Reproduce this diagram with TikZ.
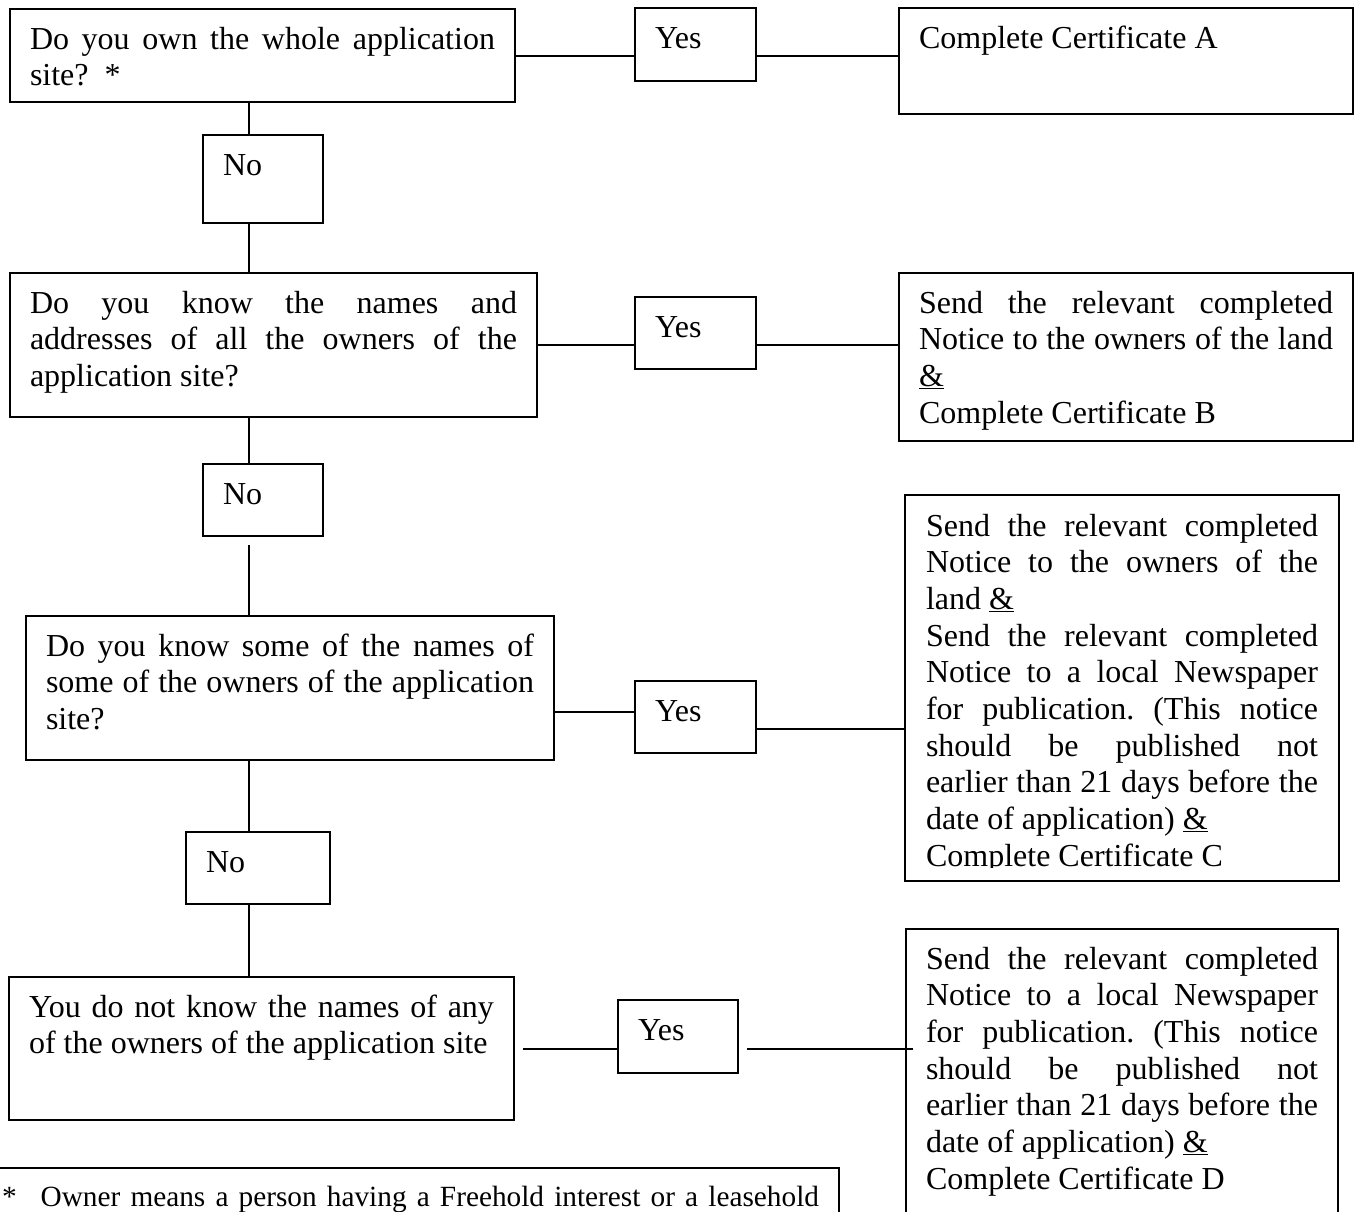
\documentclass[tikz,border=0pt]{standalone}
\usepackage{fontspec}
\setmainfont{Liberation Serif}
\usepackage{tikz}
\usetikzlibrary{calc}
\tikzset{
  chart/.style = {draw, line width = 2pt, anchor = north west, inner xsep = 20pt, inner ysep = 0pt,
    text height = 40pt, align = justify, font = \fontsize{32pt}{36.67pt}\selectfont},
  link/.style = {line width = 2pt}
}
\hyphenpenalty=10000
\tolerance=10000
\hbadness=10000
\frenchspacing

\begin{document}
\begin{tikzpicture}[x = 1pt, y = -1pt]
\useasboundingbox (0, 0) rectangle (1354, 1211);
\coordinate (spine) at (249, 0);

\node[chart, text width = 465pt, text depth = 53pt] (own) at (9, 8) {Do you own the whole application\linebreak site?\ \ *};
\node[chart, text width = 80pt, text depth = 48pt] (noA) at (202, 134) {No};
\node[chart, text width = 487pt, text depth = 104pt] (names) at (9, 272) {Do you know the names and\linebreak addresses of all the owners of the\linebreak application site?};
\node[chart, text width = 80pt, text depth = 32pt] (noB) at (202, 463) {No};
\node[chart, text width = 488pt, text depth = 104pt] (some) at (25, 615) {Do you know some of the names of\linebreak some of the owners of the application\linebreak site?};
\node[chart, text width = 104pt, text depth = 32pt] (noC) at (185, 831) {No};
\node[chart, text width = 465pt, text depth = 103pt] (none) at (8, 976) {You do not know the names of any\linebreak of the owners of the application site};

\node[chart, text width = 81pt, text depth = 33pt] (yesA) at (634, 7) {Yes};
\node[chart, text width = 81pt, text depth = 32pt] (yesB) at (634, 296) {Yes};
\node[chart, text width = 81pt, text depth = 32pt] (yesC) at (634, 680) {Yes};
\node[chart, text width = 80pt, text depth = 33pt] (yesD) at (617, 999) {Yes};

\node[chart, text width = 414pt, text depth = 66pt] (certA) at (898, 7) {Complete Certificate A};
\node[chart, text width = 414pt, text depth = 128pt] (certB) at (898, 272) {Send the relevant completed\linebreak Notice to the owners of the land\linebreak \underline{\&}\par Complete Certificate B};
\node[chart, draw = none, text width = 392pt, text depth = 344pt] (certC) at (905, 495) {Send the relevant completed\linebreak Notice to the owners of the\linebreak land \underline{\&}\par Send the relevant completed\linebreak Notice to a local Newspaper\linebreak for publication. (This notice\linebreak should be published not\linebreak earlier than 21 days before the\linebreak date of application) \underline{\&}\par Complete Certificate C};
\fill[white] ($(certC.south west) + (1, -13)$) rectangle ($(certC.south east) + (-1, -1)$);
\draw[link] (certC.south west) rectangle (certC.north east);
\node[chart, text width = 392pt, text depth = 290pt] (certD) at (905, 928) {Send the relevant completed\linebreak Notice to a local Newspaper\linebreak for publication. (This notice\linebreak should be published not\linebreak earlier than 21 days before the\linebreak date of application) \underline{\&}\par Complete Certificate D};

\node[chart, text width = 817pt, text depth = 60pt, text height = 38pt, font = \fontsize{29.3pt}{33.7pt}\selectfont] (note) at (-19, 1167) {\makebox[\linewidth][s]{*\hspace{24pt}Owner means a person having a Freehold interest or a leasehold}};

\draw[link] (own.south -| spine) -- (noA.north -| spine);
\draw[link] (noA.south -| spine) -- (names.north -| spine);
\draw[link] (names.south -| spine) -- (noB.north -| spine);
\draw[link] ($(noB.south -| spine) + (0, 8)$) -- (some.north -| spine);
\draw[link] (some.south -| spine) -- (noC.north -| spine);
\draw[link] (noC.south -| spine) -- (none.north -| spine);

\draw[link] (own.east) -- (own.east -| yesA.west);
\draw[link] (own.east -| yesA.east) -- (own.east -| certA.west);
\draw[link] (names.east) -- (names.east -| yesB.west);
\draw[link] (names.east -| yesB.east) -- (names.east -| certB.west);
\draw[link] ($(yesC.west -| some.east) + (0, -5)$) -- ($(yesC.west) + (0, -5)$);
\draw[link] ($(yesC.east) + (0, 12)$) -- ($(yesC.east -| certC.west) + (0, 12)$);
\draw[link] ($(none.east) + (8, 0)$) -- (none.east -| yesD.west);
\draw[link] ($(none.east -| yesD.east) + (8, 0)$) -- ($(none.east -| certD.west) + (8, 0)$);
\end{tikzpicture}
\end{document}
